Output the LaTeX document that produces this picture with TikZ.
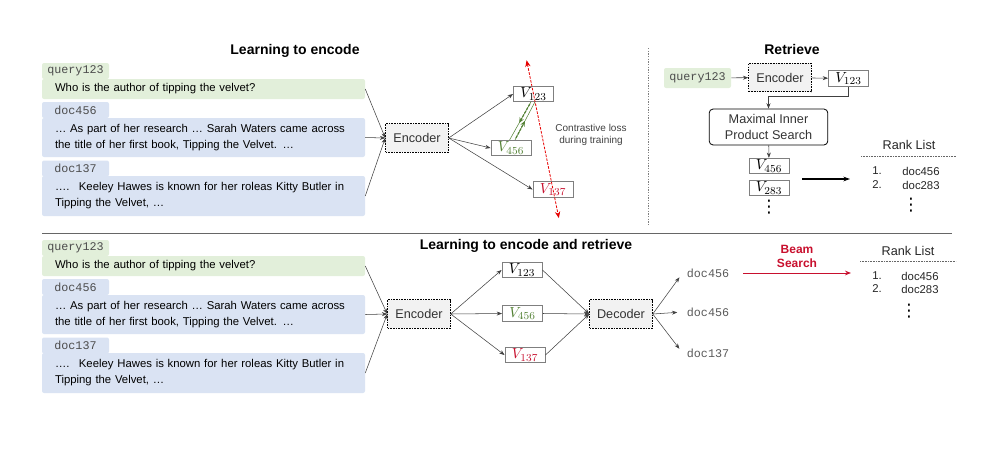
\documentclass[tikz,border=0pt]{standalone}
\usepackage{fontspec}
\setmainfont{Liberation Sans}
\setmonofont{Liberation Mono}
\newfontfamily\pSymFont{DejaVu Sans}
\usetikzlibrary{arrows.meta,calc}
\definecolor{pQueryGreen}{RGB}{226,239,218}
\definecolor{pDocBlue}{RGB}{218,227,243}
\definecolor{pPosGreen}{RGB}{84,130,53}
\definecolor{pNegRed}{RGB}{200,16,46}
\definecolor{pLossRed}{RGB}{230,0,0}
\definecolor{pBoxGray}{RGB}{127,127,127}
\definecolor{pEncFill}{RGB}{242,242,242}
\tikzset{
  pTitle/.style={inner sep=0pt, font=\fontsize{10.5}{12}\selectfont\bfseries},
  pTab/.style={minimum width=50.25pt, minimum height=12pt, inner sep=0pt, rounded corners=1.5pt, text=black!70, font=\fontsize{8.8}{10}\ttfamily},
  pText/.style={text width=222.75pt, inner xsep=9.75pt, inner ysep=0pt, align=left, rounded corners=1.5pt, font=\fontsize{8.5}{12}\selectfont},
  pCoder/.style={draw, dash pattern=on 1.2pt off 0.8pt, line width=0.6pt, fill=pEncFill, minimum width=47pt, minimum height=21.5pt, inner sep=0pt, text=black!80, font=\fontsize{9.5}{11}\selectfont},
  pVecBox/.style={draw=pBoxGray, fill=white, line width=0.7pt, minimum width=30pt, minimum height=11.5pt, inner sep=0pt, font=\fontsize{11}{12}\selectfont},
  pMips/.style={draw, rounded corners=3pt, line width=0.6pt, minimum width=89pt, minimum height=27pt, inner sep=0pt, align=center, text=black!80, font=\fontsize{9.5}{11.5}\selectfont},
  pSmall/.style={align=center, inner sep=0pt, text=black!75, font=\fontsize{7.5}{9}\selectfont},
  pRank/.style={inner sep=0pt, text=black!85, font=\fontsize{9.5}{11}\selectfont},
  pItem/.style={inner sep=0pt, text=black!85, font=\fontsize{8.5}{10}\selectfont},
  pDots/.style={inner sep=0pt, font=\fontsize{13}{14}\pSymFont},
  pOut/.style={inner sep=3pt, text=black!65, font=\fontsize{8.8}{10}\ttfamily},
  pBeam/.style={align=center, inner sep=0pt, text=pNegRed, font=\fontsize{9}{10.5}\selectfont\bfseries},
  pRule/.style={black!60, line width=0.5pt, dash pattern=on 0.6pt off 0.6pt},
  pArr/.style={-{Stealth[length=4pt,width=3pt]}, line width=0.4pt, black!75},
  pPosLine/.style={pPosGreen, line width=0.4pt},
  pPosArr/.style={-{Stealth[length=4pt,width=3.5pt]}, pPosGreen, line width=0.9pt, dash pattern=on 2pt off 1pt},
  pLoss/.style={{Stealth[length=5pt,width=4pt]}-{Stealth[length=5pt,width=4pt]}, pLossRed, line width=0.6pt, dash pattern=on 2pt off 1pt},
}
% query and two documents, #1 name prefix, #2 vertical offset
\newcommand{\pInputStack}[2]{%
  \node[pTab, fill=pQueryGreen] (#1qtab) at (75.5,{71+#2}) {query123};
  \node[pText, fill=pQueryGreen, minimum height=15pt] (#1q) at (203.5,{89+#2}) {Who is the author of tipping the velvet?};
  \node[pTab, fill=pDocBlue] (#1atab) at (75.5,{110+#2}) {doc456};
  \node[pText, fill=pDocBlue, minimum height=29.25pt] (#1a) at (203.5,{137.5+#2}) {… As part of her research … Sarah Waters came across\\the title of her first book, Tipping the Velvet. …};
  \node[pTab, fill=pDocBlue] (#1btab) at (75.5,{168.5+#2}) {doc137};
  \node[pText, fill=pDocBlue, minimum height=30pt] (#1b) at (203.5,{196+#2}) {….~ Keeley Hawes is known for her roleas Kitty Butler in\\Tipping the Velvet, …};
}

\begin{document}
\begin{tikzpicture}[x=0.75pt,y=-0.75pt]
\useasboundingbox (0,0) rectangle (1006,450);
% learning to encode
\node[pTitle] (ttitle) at (295,51) {Learning to encode};
\pInputStack{t}{0}
\node[pCoder] (tenc) at (417,138) {Encoder};
\node[pVecBox] (tv123) at (533.5,94) {$V_{123}$};
\node[pVecBox, text=pPosGreen] (tv456) at (511,148) {$V_{456}$};
\node[pVecBox, text=pNegRed] (tv137) at (553,189.5) {$V_{137}$};
\node[pSmall] (tloss) at (591,135) {Contrastive loss\\during training};
\draw[pArr] (tq.east) -- (tenc.west);
\draw[pArr] (ta.east) -- (tenc.west);
\draw[pArr] (tb.east) -- (tenc.west);
\draw[pArr] (tenc.east) -- (tv123.west);
\draw[pArr] (tenc.east) -- (tv456.west);
\draw[pArr] (tenc.east) -- (tv137.west);
\coordinate (pa1) at ([xshift=-2pt]tv123.south);
\coordinate (pa2) at ([xshift=-1pt]tv456.north);
\coordinate (pb1) at ([xshift=1pt]tv123.south);
\coordinate (pb2) at ([xshift=3pt]tv456.north);
\draw[pPosLine] (pa1) -- (pa2);
\draw[pPosLine] (pb1) -- (pb2);
\draw[pPosArr] ($(pa1)!0.05!(pa2)$) -- ($(pa1)!0.55!(pa2)$);
\draw[pPosArr] ($(pb2)!0.05!(pb1)$) -- ($(pb2)!0.5!(pb1)$);
\coordinate (ltop) at ($(tv123)!-0.354!(tv137)$);
\coordinate (lbot) at ($(tv137)!-0.3!(tv123)$);
\draw[pLoss] (ltop) -- (lbot);
\draw[black!50, line width=0.5pt, dash pattern=on 1pt off 1pt] (648,48) -- (648,225);
% retrieve
\node[pTitle] (rtitle) at (792,49) {Retrieve};
\node[pTab, fill=pQueryGreen, minimum height=15pt] (rq) at (697.5,78) {query123};
\node[pCoder] (renc) at (780,77.5) {Encoder};
\node[pVecBox] (rv123) at (848.5,78.5) {$V_{123}$};
\node[pMips] (rmips) at (768.5,127) {Maximal Inner\\Product Search};
\node[pVecBox] (rv456) at (769,166) {$V_{456}$};
\node[pVecBox] (rv283) at (769,188) {$V_{283}$};
\node[pDots] (rdots) at (769,207) {⋮};
\draw[pArr] (rq) -- (renc);
\draw[pArr] (renc) -- (rv123);
\draw[pArr] (rv123.south) -- ++(0,10) -| (rmips.north);
\draw[pArr] (rmips) -- (rv456);
\coordinate (rfrom) at (802,179);
\coordinate (rto) at (850,179);
\draw[-{Stealth[length=5pt,width=3.5pt]}, line width=0.8pt] (rfrom) -- (rto);
\node[pRank] (rrank) at (909,145) {Rank List};
\draw[pRule] (861,156) -- (956,156);
\node[pItem] (rn1) at (877,171) {1.};
\node[pItem] (rd1) at (921,171) {doc456};
\node[pItem] (rn2) at (877,185) {2.};
\node[pItem] (rd2) at (921,185) {doc283};
\node[pDots] (rrdots) at (911,205) {⋮};
\draw[black!60, line width=0.6pt] (42,233) -- (952,233);
% learning to encode and retrieve
\node[pTitle] (btitle) at (526,246) {Learning to encode and retrieve};
\pInputStack{b}{177}
\node[pCoder] (benc) at (419,314) {Encoder};
\node[pVecBox] (bv123) at (522,270) {$V_{123}$};
\node[pVecBox, text=pPosGreen] (bv456) at (522.5,313.5) {$V_{456}$};
\node[pVecBox, text=pNegRed] (bv137) at (525,355) {$V_{137}$};
\node[pCoder] (bdec) at (621,314) {Decoder};
\node[pOut] (bo1) at (708,273) {doc456};
\node[pOut] (bo2) at (708,312) {doc456};
\node[pOut] (bo3) at (708,353) {doc137};
\draw[pArr] (bq.east) -- (benc.west);
\draw[pArr] (ba.east) -- (benc.west);
\draw[pArr] (bb.east) -- (benc.west);
\foreach \v in {bv123,bv456,bv137} {
  \draw[pArr] (benc.east) -- (\v.west);
  \draw[pArr] (\v.east) -- (bdec.west);
}
\foreach \o in {bo1,bo2,bo3}
  \draw[pArr, shorten >=4pt] (bdec.east) -- (\o.west);
\node[pBeam] (bbeam) at (797,256) {Beam\\Search};
\coordinate (bfrom) at (743,273);
\coordinate (bto) at (851,273);
\draw[-{Stealth[length=4.5pt,width=3.5pt]}, pNegRed, line width=0.7pt] (bfrom) -- (bto);
\node[pRank] (brank) at (908,251) {Rank List};
\draw[pRule] (860,261) -- (956,261);
\node[pItem] (bn1) at (877,276) {1.};
\node[pItem] (bd1) at (920,276) {doc456};
\node[pItem] (bn2) at (877,289) {2.};
\node[pItem] (bd2) at (920,289) {doc283};
\node[pDots] (bbdots) at (909,311) {⋮};
\end{tikzpicture}
\end{document}
